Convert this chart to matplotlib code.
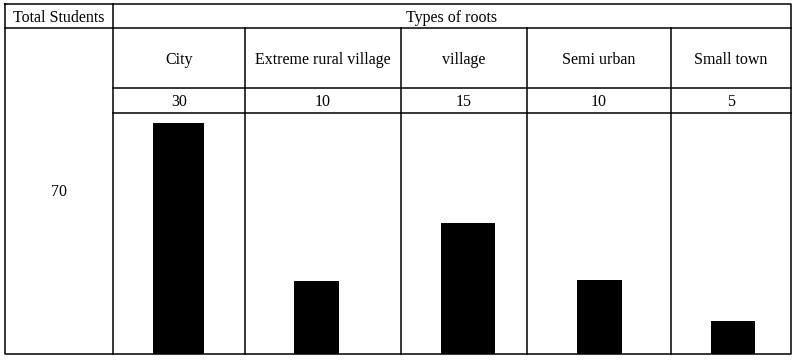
import matplotlib
matplotlib.use("Agg")
import matplotlib.pyplot as plt

# data
categories = ["City", "Extreme rural village", "village", "Semi urban", "Small town"]
counts = [30, 10, 15, 10, 5]
# bar heights as drawn (same scale as counts, City = 30)
bar_heights = [30, 9.5, 17, 9.6, 4.3]
total_students = 70

# table layout in pixels
col_edges = [5, 113, 245, 401, 527, 671, 791]
row_edges = [4, 28, 88, 113, 354]
bar_shift = [-0.5, -6.5, 4, 0.5, 2]
bar_width = [51, 45, 54, 45, 44]
W, H = 796, 362
lw = 1.1
fs = 11.5
font = "Liberation Serif"
dy = 1.5  # text sits a bit low in its cell

fig = plt.figure(figsize=(W / 100, H / 100), dpi=100)
ax = fig.add_axes([0, 0, 1, 1])
ax.set_xlim(0, W)
ax.set_ylim(H, 0)
ax.axis("off")

left, right = col_edges[0], col_edges[-1]
top, bottom = row_edges[0], row_edges[-1]

# outer border
ax.plot([left, right, right, left, left], [top, top, bottom, bottom, top], color="black", lw=lw)
# horizontal lines
ax.plot([left, right], [row_edges[1], row_edges[1]], color="black", lw=lw)
for y in row_edges[2:4]:
    ax.plot([col_edges[1], right], [y, y], color="black", lw=lw)
# vertical lines
ax.plot([col_edges[1], col_edges[1]], [top, bottom], color="black", lw=lw)
for x in col_edges[2:-1]:
    ax.plot([x, x], [row_edges[1], bottom], color="black", lw=lw)

# texts
ax.text((col_edges[0] + col_edges[1]) / 2, (row_edges[0] + row_edges[1]) / 2 + dy, "Total Students",
        ha="center", va="center", fontsize=fs, family=font)
ax.text((col_edges[1] + right) / 2, (row_edges[0] + row_edges[1]) / 2 + dy, "Types of roots",
        ha="center", va="center", fontsize=fs, family=font)
ax.text((col_edges[0] + col_edges[1]) / 2, (row_edges[1] + bottom) / 2 + dy, str(total_students),
        ha="center", va="center", fontsize=fs, family=font)

centers = []
for i, cat in enumerate(categories):
    cx = (col_edges[i + 1] + col_edges[i + 2]) / 2
    centers.append(cx + bar_shift[i])
    ax.text(cx, (row_edges[1] + row_edges[2]) / 2 + dy, cat, ha="center", va="center", fontsize=fs, family=font)
    ax.text(cx, (row_edges[2] + row_edges[3]) / 2 + dy, str(counts[i]), ha="center", va="center", fontsize=fs, family=font)

# bar chart inside the last row
bx0, bx1 = col_edges[1], right
by0, by1 = row_edges[3], bottom
bax = fig.add_axes([bx0 / W, 1 - by1 / H, (bx1 - bx0) / W, (by1 - by0) / H])
bax.set_xlim(bx0, bx1)
bax.set_ylim(0, 31.3)
bax.bar(centers, bar_heights, width=bar_width, color="black")
bax.axis("off")

fig.savefig("out.png", dpi=100)
